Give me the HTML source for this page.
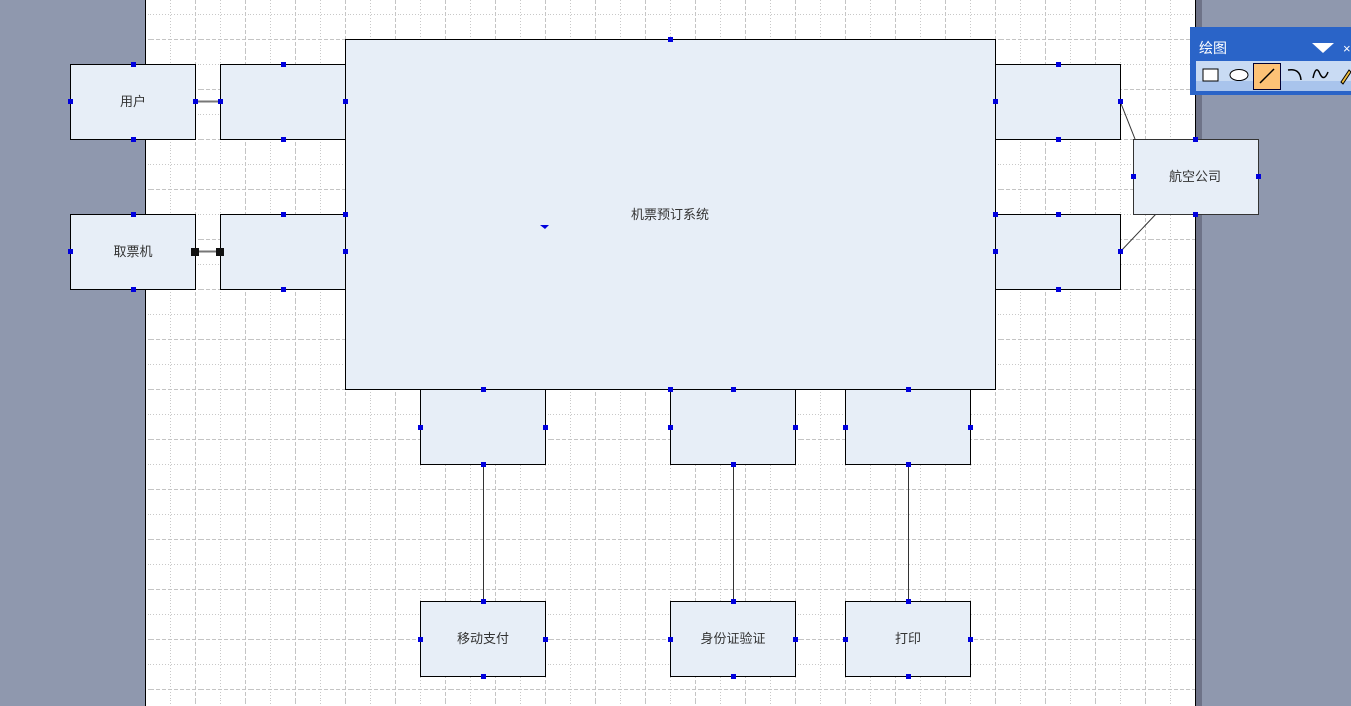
<!DOCTYPE html>
<html><head><meta charset="utf-8"><style>
body{margin:0;width:1351px;height:706px;overflow:hidden;background:#8f98ae;font-family:"Liberation Sans","Noto Sans CJK SC",sans-serif}
svg{display:block}
</style></head><body>
<svg width="1351" height="706" xmlns="http://www.w3.org/2000/svg">
<defs>
<pattern id="g" patternUnits="userSpaceOnUse" x="0" y="0" width="50" height="50">
<rect width="50" height="50" fill="#fff"/>
<line x1="45.5" y1="0" x2="45.5" y2="50" stroke="#c4c4c4" stroke-dasharray="4,2"/>
<line x1="20.5" y1="0" x2="20.5" y2="50" stroke="#c8c8c8" stroke-dasharray="1,2"/>
<line x1="0" y1="39.5" x2="50" y2="39.5" stroke="#c4c4c4" stroke-dasharray="4,2"/>
<line x1="0" y1="14.5" x2="50" y2="14.5" stroke="#c8c8c8" stroke-dasharray="1,2"/>
</pattern>
</defs>
<rect x="146" y="0" width="1049" height="706" fill="url(#g)"/>
<line x1="145.5" y1="0" x2="145.5" y2="706" stroke="#000"/>
<line x1="1195.5" y1="0" x2="1195.5" y2="706" stroke="#000"/>
<rect x="1196" y="0" width="6" height="706" fill="#6e7388"/>

<g stroke="#000" stroke-width="1">
<line x1="195" y1="101.5" x2="220" y2="101.5" stroke="#777" stroke-width="2"/>
<line x1="195" y1="251.5" x2="220" y2="251.5" stroke="#777" stroke-width="2"/>
<line x1="1120" y1="101" x2="1135" y2="139" stroke="#333"/>
<line x1="1120" y1="252" x2="1156" y2="214" stroke="#333"/>
<line x1="483.5" y1="464" x2="483.5" y2="601" stroke="#333"/>
<line x1="733.5" y1="464" x2="733.5" y2="601" stroke="#333"/>
<line x1="908.5" y1="464" x2="908.5" y2="601" stroke="#333"/>
</g>

<g fill="#e7eef7" stroke="#000" stroke-width="1">
<rect x="70.5" y="64.5" width="125" height="75"/>
<rect x="220.5" y="64.5" width="125" height="75"/>
<rect x="70.5" y="214.5" width="125" height="75"/>
<rect x="220.5" y="214.5" width="125" height="75"/>
<rect x="995.5" y="64.5" width="125" height="75"/>
<rect x="995.5" y="214.5" width="125" height="75"/>
<rect x="420.5" y="389.5" width="125" height="75"/>
<rect x="670.5" y="389.5" width="125" height="75"/>
<rect x="845.5" y="389.5" width="125" height="75"/>
<rect x="420.5" y="601.5" width="125" height="75"/>
<rect x="670.5" y="601.5" width="125" height="75"/>
<rect x="845.5" y="601.5" width="125" height="75"/>
<rect x="345.5" y="39.5" width="650" height="350"/>
<rect x="1133.5" y="139.5" width="125" height="75" stroke="#333"/>
</g>

<g font-size="13" fill="#333" text-anchor="middle" font-family="Liberation Sans, Noto Sans CJK SC, sans-serif">
<text x="133" y="106">用户</text>
<text x="133" y="256">取票机</text>
<text x="670" y="219">机票预订系统</text>
<text x="1195" y="181">航空公司</text>
<text x="483" y="643">移动支付</text>
<text x="733" y="643">身份证验证</text>
<text x="908" y="643">打印</text>
</g>

<g fill="#0000dd">
<!-- markers -->
<rect x="131" y="62" width="5" height="5"/><rect x="131" y="137" width="5" height="5"/><rect x="68" y="99" width="5" height="5"/><rect x="193" y="99" width="5" height="5"/>
<rect x="281" y="62" width="5" height="5"/><rect x="281" y="137" width="5" height="5"/><rect x="218" y="99" width="5" height="5"/><rect x="343" y="99" width="5" height="5"/>
<rect x="131" y="212" width="5" height="5"/><rect x="131" y="287" width="5" height="5"/><rect x="68" y="249" width="5" height="5"/>
<rect x="281" y="212" width="5" height="5"/><rect x="281" y="287" width="5" height="5"/><rect x="343" y="249" width="5" height="5"/><rect x="343" y="212" width="5" height="5"/>
<rect x="668" y="37" width="5" height="5"/>
<rect x="1056" y="62" width="5" height="5"/><rect x="1056" y="137" width="5" height="5"/><rect x="993" y="99" width="5" height="5"/><rect x="1118" y="99" width="5" height="5"/>
<rect x="1056" y="212" width="5" height="5"/><rect x="1056" y="287" width="5" height="5"/><rect x="993" y="249" width="5" height="5"/><rect x="1118" y="249" width="5" height="5"/><rect x="993" y="212" width="5" height="5"/>
<rect x="1193" y="137" width="5" height="5"/><rect x="1193" y="212" width="5" height="5"/><rect x="1131" y="174" width="5" height="5"/><rect x="1256" y="174" width="5" height="5"/>
<rect x="481" y="387" width="5" height="5"/><rect x="481" y="462" width="5" height="5"/><rect x="418" y="425" width="5" height="5"/><rect x="543" y="425" width="5" height="5"/>
<rect x="668" y="387" width="5" height="5"/><rect x="731" y="387" width="5" height="5"/><rect x="731" y="462" width="5" height="5"/><rect x="668" y="425" width="5" height="5"/><rect x="793" y="425" width="5" height="5"/>
<rect x="906" y="387" width="5" height="5"/><rect x="906" y="462" width="5" height="5"/><rect x="843" y="425" width="5" height="5"/><rect x="968" y="425" width="5" height="5"/>
<rect x="481" y="599" width="5" height="5"/><rect x="481" y="674" width="5" height="5"/><rect x="418" y="637" width="5" height="5"/><rect x="543" y="637" width="5" height="5"/>
<rect x="731" y="599" width="5" height="5"/><rect x="731" y="674" width="5" height="5"/><rect x="668" y="637" width="5" height="5"/><rect x="793" y="637" width="5" height="5"/>
<rect x="906" y="599" width="5" height="5"/><rect x="906" y="674" width="5" height="5"/><rect x="843" y="637" width="5" height="5"/><rect x="968" y="637" width="5" height="5"/>
<path d="M540 225 L549 225 L545 229 Z"/>
</g>
<rect x="191" y="248" width="8" height="8" fill="#111"/>
<rect x="216" y="248" width="8" height="8" fill="#111"/>

<!-- toolbar -->
<rect x="1190" y="27" width="161" height="68" fill="#2a64c8"/>
<rect x="1196" y="61" width="155" height="30" fill="#c9dbf3"/>
<rect x="1196" y="81" width="155" height="10" fill="#a9c4ec"/>
<text x="1199" y="53" font-size="14" fill="#fff" font-family="Liberation Sans, Noto Sans CJK SC, sans-serif">绘图</text>
<path d="M1312 43 L1334 43 L1323 53 Z" fill="#fff"/>
<text x="1343" y="53" font-size="13" fill="#fff">×</text>
<rect x="1203" y="69" width="15" height="12" fill="#fff" stroke="#000"/>
<ellipse cx="1239" cy="75" rx="9" ry="5.5" fill="#fff" stroke="#000"/>
<rect x="1253.5" y="63.5" width="27" height="26" fill="#fdc276" stroke="#000033"/>
<line x1="1260" y1="83" x2="1274" y2="69" stroke="#000" stroke-width="1.5"/>
<path d="M1288 70 Q1300 68 1301 80" fill="none" stroke="#000" stroke-width="1.5"/>
<path d="M1313 78 Q1316 64 1320 74 Q1324 82 1328 72" fill="none" stroke="#000" stroke-width="1.5"/>
<path d="M1341 82 L1349 70 L1351 72 L1343 84 Z" fill="#f0c040" stroke="#000"/>
</svg>
</body></html>
